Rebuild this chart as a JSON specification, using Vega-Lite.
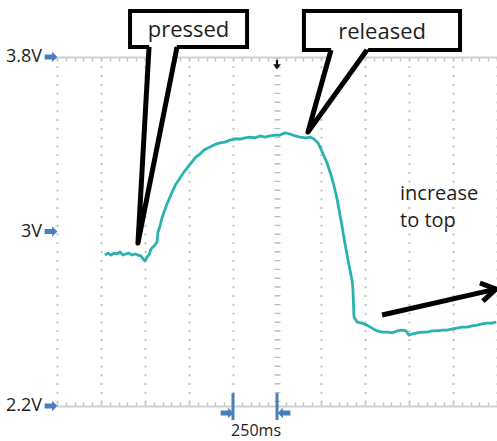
{
  "$schema": "https://vega.github.io/schema/vega-lite/v6.json",
  "width": 440,
  "height": 349,
  "autosize": {"type": "none"},
  "padding": {"left": 57, "top": 57, "right": 0, "bottom": 35},
  "background": "white",
  "config": {"view": {"stroke": null}},
  "resolve": {"axis": {"x": "independent"}},
  "datasets": {
    "trace": [
      {"t":272.7,"V":2.892},{"t":289.8,"V":2.901},{"t":306.8,"V":2.892},{"t":323.9,"V":2.901},{"t":340.9,"V":2.897},{"t":358.0,"V":2.906},{"t":375.0,"V":2.892},{"t":392.1,"V":2.897},{"t":409.1,"V":2.901},{"t":426.2,"V":2.892},{"t":443.2,"V":2.897},{"t":460.2,"V":2.892},{"t":477.3,"V":2.888},{"t":488.7,"V":2.874},{"t":500.0,"V":2.865},{"t":511.4,"V":2.883},{"t":522.7,"V":2.892},{"t":534.1,"V":2.920},{"t":545.5,"V":2.929},{"t":556.8,"V":2.938},{"t":568.2,"V":2.952},{"t":573.9,"V":2.998},{"t":585.2,"V":3.025},{"t":596.6,"V":3.062},{"t":608.0,"V":3.089},{"t":625.0,"V":3.126},{"t":642.1,"V":3.158},{"t":659.1,"V":3.190},{"t":676.2,"V":3.218},{"t":698.9,"V":3.245},{"t":721.6,"V":3.273},{"t":744.3,"V":3.296},{"t":767.1,"V":3.319},{"t":789.8,"V":3.342},{"t":812.5,"V":3.355},{"t":835.3,"V":3.374},{"t":858.0,"V":3.383},{"t":880.7,"V":3.392},{"t":903.4,"V":3.401},{"t":926.2,"V":3.406},{"t":954.6,"V":3.410},{"t":983.0,"V":3.419},{"t":1011.4,"V":3.424},{"t":1039.8,"V":3.424},{"t":1068.2,"V":3.429},{"t":1096.6,"V":3.433},{"t":1125.0,"V":3.429},{"t":1153.4,"V":3.438},{"t":1181.9,"V":3.433},{"t":1210.3,"V":3.438},{"t":1238.7,"V":3.442},{"t":1267.1,"V":3.442},{"t":1295.5,"V":3.452},{"t":1323.9,"V":3.447},{"t":1352.3,"V":3.438},{"t":1380.7,"V":3.433},{"t":1409.1,"V":3.429},{"t":1437.5,"V":3.433},{"t":1460.3,"V":3.424},{"t":1483.0,"V":3.406},{"t":1500.0,"V":3.378},{"t":1517.1,"V":3.346},{"t":1534.1,"V":3.314},{"t":1551.2,"V":3.273},{"t":1568.2,"V":3.227},{"t":1585.3,"V":3.172},{"t":1596.6,"V":3.126},{"t":1608.0,"V":3.076},{"t":1619.4,"V":3.025},{"t":1630.7,"V":2.970},{"t":1642.1,"V":2.920},{"t":1653.5,"V":2.869},{"t":1664.8,"V":2.823},{"t":1676.2,"V":2.778},{"t":1681.9,"V":2.732},{"t":1684.7,"V":2.663},{"t":1687.6,"V":2.608},{"t":1704.6,"V":2.585},{"t":1733.0,"V":2.580},{"t":1761.4,"V":2.571},{"t":1789.8,"V":2.557},{"t":1818.2,"V":2.544},{"t":1846.7,"V":2.539},{"t":1875.1,"V":2.539},{"t":1903.5,"V":2.535},{"t":1931.9,"V":2.544},{"t":1960.3,"V":2.548},{"t":1983.0,"V":2.544},{"t":2000.1,"V":2.525},{"t":2017.1,"V":2.530},{"t":2045.5,"V":2.535},{"t":2073.9,"V":2.539},{"t":2102.3,"V":2.539},{"t":2130.8,"V":2.544},{"t":2159.2,"V":2.544},{"t":2187.6,"V":2.548},{"t":2216.0,"V":2.548},{"t":2244.4,"V":2.553},{"t":2272.8,"V":2.557},{"t":2301.2,"V":2.562},{"t":2329.6,"V":2.562},{"t":2358.0,"V":2.567},{"t":2386.4,"V":2.571},{"t":2414.9,"V":2.576},{"t":2443.3,"V":2.580},{"t":2471.7,"V":2.580},{"t":2494.4,"V":2.585}
    ],
    "boxes": [
      {"label":"pressed","t":415,"t2":1080,"V":4.011,"V2":3.846,"tc":747,"Vc":3.892},
      {"label":"released","t":1403,"t2":2290,"V":4.011,"V2":3.832,"tc":1847,"Vc":3.883}
    ],
    "tailfill": [
      {"id":"p","V":3.860,"t":524,"t2":683},
      {"id":"p","V":2.947,"t":460,"t2":460},
      {"id":"r","V":3.846,"t":1561,"t2":1774},
      {"id":"r","V":3.456,"t":1426,"t2":1426}
    ],
    "tails": [
      {"id":"p","o":1,"t":523,"V":3.846},
      {"id":"p","o":2,"t":460,"V":2.947},
      {"id":"p","o":3,"t":682,"V":3.846},
      {"id":"r","o":1,"t":1557,"V":3.832},
      {"id":"r","o":2,"t":1426,"V":3.456},
      {"id":"r","o":3,"t":1761,"V":3.832}
    ],
    "note": [{"text":"increase\nto top","t":1949,"V":3.144}],
    "arrow": [
      {"id":"shaft","o":1,"t":1847,"V":2.617},
      {"id":"shaft","o":2,"t":2494,"V":2.736},
      {"id":"head","o":1,"t":2403,"V":2.764},
      {"id":"head","o":2,"t":2494,"V":2.736},
      {"id":"head","o":3,"t":2420,"V":2.681}
    ],
    "vlabels": [
      {"label":"3.8V","t":-85,"V":3.8},
      {"label":"3V","t":-85,"V":3.0},
      {"label":"2.2V","t":-85,"V":2.2}
    ],
    "bluearrows": [
      {"t":-34,"V":3.8,"dir":"right"},
      {"t":-34,"V":3.0,"dir":"right"},
      {"t":-34,"V":2.2,"dir":"right"},
      {"t":966,"V":2.168,"dir":"right"},
      {"t":1290,"V":2.168,"dir":"left"}
    ],
    "cursors": [
      {"t":1000,"V":2.259,"V2":2.136},
      {"t":1250,"V":2.259,"V2":2.136}
    ],
    "scaleText": [{"text":"250ms","t":1131,"V":2.086}],
    "trigger": [{"t":1250,"V":3.762}]
  },
  "layer": [
    {
      "data": {"name": "trace"},
      "mark": {"type": "line", "color": "#2ab3ae", "strokeWidth": 2.8, "strokeJoin": "round"},
      "encoding": {
        "x": {"field": "t", "type": "quantitative", "scale": {"domain": [0, 2500], "nice": false, "zero": false},
          "axis": {"orient": "bottom", "title": null, "labels": false,
            "values": [0,50,100,150,200,250,300,350,400,450,500,550,600,650,700,750,800,850,900,950,1000,1050,1100,1150,1200,1250,1300,1350,1400,1450,1500,1550,1600,1650,1700,1750,1800,1850,1900,1950,2000,2050,2100,2150,2200,2250,2300,2350,2400,2450,2500],
            "domainColor": "#d0d0d0", "domainWidth": 2,
            "tickColor": "#c4c4c4", "tickSize": -4, "tickWidth": 1.5,
            "grid": true, "gridColor": "#c0c0c0",
            "gridOpacity": {"condition": {"test": "datum.value % 250 === 0", "value": 1}, "value": 0},
            "gridWidth": {"condition": {"test": "datum.value === 1250", "value": 6}, "value": 2},
            "gridDash": {"condition": {"test": "datum.value === 1250", "value": [1.4, 7.4]}, "value": [2, 6.8]}
          }},
        "y": {"field": "V", "type": "quantitative", "scale": {"domain": [2.2, 3.8], "nice": false, "zero": false},
          "axis": {"orient": "left", "title": null, "labels": false,
            "values": [2.2,2.24,2.28,2.32,2.36,2.4,2.44,2.48,2.52,2.56,2.6,2.64,2.68,2.72,2.76,2.8,2.84,2.88,2.92,2.96,3,3.04,3.08,3.12,3.16,3.2,3.24,3.28,3.32,3.36,3.4,3.44,3.48,3.52,3.56,3.6,3.64,3.68,3.72,3.76,3.8],
            "domainColor": "#d0d0d0", "domainWidth": 2,
            "tickColor": "#c4c4c4", "tickSize": -4, "tickWidth": 1.5,
            "grid": true, "gridColor": "#c0c0c0",
            "gridOpacity": {"condition": {"test": "abs(datum.value*5 - round(datum.value*5)) < 0.001", "value": 1}, "value": 0},
            "gridWidth": {"condition": {"test": "abs(datum.value-3) < 0.001", "value": 6}, "value": 2},
            "gridDash": {"condition": {"test": "abs(datum.value-3) < 0.001", "value": [1.4, 7.4]}, "value": [2, 6.8]}
          }}
      }
    },
    {
      "data": {"name": "boxes"},
      "mark": {"type": "rect", "fill": "white", "stroke": "black", "strokeWidth": 4},
      "encoding": {
        "x": {"field": "t", "type": "quantitative", "scale": {"domain": [0, 2500], "nice": false, "zero": false},
          "axis": {"orient": "top", "title": null, "labels": false, "grid": false,
            "values": [0,50,100,150,200,250,300,350,400,450,500,550,600,650,700,750,800,850,900,950,1000,1050,1100,1150,1200,1250,1300,1350,1400,1450,1500,1550,1600,1650,1700,1750,1800,1850,1900,1950,2000,2050,2100,2150,2200,2250,2300,2350,2400,2450,2500],
            "domainColor": "#d0d0d0", "domainWidth": 2,
            "tickColor": "#c4c4c4", "tickSize": -4, "tickWidth": 1.5}},
        "x2": {"field": "t2"},
        "y": {"field": "V", "type": "quantitative", "scale": {"domain": [2.2, 3.8], "nice": false, "zero": false}, "axis": null},
        "y2": {"field": "V2"}
      }
    },
    {
      "data": {"name": "tailfill"},
      "mark": {"type": "area", "orient": "horizontal", "color": "white", "opacity": 1},
      "encoding": {
        "y": {"field": "V", "type": "quantitative", "scale": {"domain": [2.2, 3.8], "nice": false, "zero": false}, "axis": null},
        "x": {"field": "t", "type": "quantitative", "scale": {"domain": [0, 2500], "nice": false, "zero": false}, "axis": null},
        "x2": {"field": "t2"},
        "detail": {"field": "id"}
      }
    },
    {
      "data": {"name": "tails"},
      "mark": {"type": "line", "color": "black", "strokeWidth": 5, "strokeJoin": "round"},
      "encoding": {
        "x": {"field": "t", "type": "quantitative", "scale": {"domain": [0, 2500], "nice": false, "zero": false}, "axis": null},
        "y": {"field": "V", "type": "quantitative", "scale": {"domain": [2.2, 3.8], "nice": false, "zero": false}, "axis": null},
        "detail": {"field": "id"},
        "order": {"field": "o"}
      }
    },
    {
      "data": {"name": "boxes"},
      "mark": {"type": "text", "font": "Open Sans", "fontSize": 22, "color": "#1e1e1e", "align": "center", "baseline": "alphabetic"},
      "encoding": {
        "x": {"field": "tc", "type": "quantitative", "scale": {"domain": [0, 2500], "nice": false, "zero": false}, "axis": null},
        "y": {"field": "Vc", "type": "quantitative", "scale": {"domain": [2.2, 3.8], "nice": false, "zero": false}, "axis": null},
        "text": {"field": "label"}
      }
    },
    {
      "data": {"name": "note"},
      "mark": {"type": "text", "font": "Open Sans", "fontSize": 20, "color": "#1e1e1e", "align": "left", "baseline": "alphabetic", "lineBreak": "\n", "lineHeight": 27},
      "encoding": {
        "x": {"field": "t", "type": "quantitative", "scale": {"domain": [0, 2500], "nice": false, "zero": false}, "axis": null},
        "y": {"field": "V", "type": "quantitative", "scale": {"domain": [2.2, 3.8], "nice": false, "zero": false}, "axis": null},
        "text": {"field": "text"}
      }
    },
    {
      "data": {"name": "arrow"},
      "mark": {"type": "line", "color": "black", "strokeWidth": 5, "strokeJoin": "miter", "strokeCap": "butt"},
      "encoding": {
        "x": {"field": "t", "type": "quantitative", "scale": {"domain": [0, 2500], "nice": false, "zero": false}, "axis": null},
        "y": {"field": "V", "type": "quantitative", "scale": {"domain": [2.2, 3.8], "nice": false, "zero": false}, "axis": null},
        "detail": {"field": "id"},
        "order": {"field": "o"}
      }
    },
    {
      "data": {"name": "vlabels"},
      "mark": {"type": "text", "font": "Open Sans", "fontSize": 18, "color": "#1e1e1e", "align": "right", "baseline": "middle"},
      "encoding": {
        "x": {"field": "t", "type": "quantitative", "scale": {"domain": [0, 2500], "nice": false, "zero": false}, "axis": null},
        "y": {"field": "V", "type": "quantitative", "scale": {"domain": [2.2, 3.8], "nice": false, "zero": false}, "axis": null},
        "text": {"field": "label"}
      }
    },
    {
      "data": {"name": "cursors"},
      "mark": {"type": "rule", "color": "#4a7ebb", "strokeWidth": 3},
      "encoding": {
        "x": {"field": "t", "type": "quantitative", "scale": {"domain": [0, 2500], "nice": false, "zero": false}, "axis": null},
        "y": {"field": "V", "type": "quantitative", "scale": {"domain": [2.2, 3.8], "nice": false, "zero": false}, "axis": null},
        "y2": {"field": "V2"}
      }
    },
    {
      "data": {"name": "bluearrows"},
      "mark": {"type": "point", "filled": true, "opacity": 1, "color": "#4a7ebb", "size": 225},
      "encoding": {
        "x": {"field": "t", "type": "quantitative", "scale": {"domain": [0, 2500], "nice": false, "zero": false}, "axis": null},
        "y": {"field": "V", "type": "quantitative", "scale": {"domain": [2.2, 3.8], "nice": false, "zero": false}, "axis": null},
        "shape": {"field": "dir", "type": "nominal", "legend": null,
          "scale": {"domain": ["right", "left"], "range": ["M-0.85,-0.34L0.15,-0.34L0.15,-0.7L0.85,0L0.15,0.7L0.15,0.34L-0.85,0.34Z", "M0.85,-0.34L-0.15,-0.34L-0.15,-0.7L-0.85,0L-0.15,0.7L-0.15,0.34L0.85,0.34Z"]}}
      }
    },
    {
      "data": {"name": "scaleText"},
      "mark": {"type": "text", "font": "Open Sans", "fontSize": 16, "color": "#1e1e1e", "align": "center", "baseline": "middle"},
      "encoding": {
        "x": {"field": "t", "type": "quantitative", "scale": {"domain": [0, 2500], "nice": false, "zero": false}, "axis": null},
        "y": {"field": "V", "type": "quantitative", "scale": {"domain": [2.2, 3.8], "nice": false, "zero": false}, "axis": null},
        "text": {"field": "text"}
      }
    },
    {
      "data": {"name": "trigger"},
      "mark": {"type": "point", "filled": true, "opacity": 1, "color": "#111111", "size": 196,
        "shape": "M-0.15,-0.8L0.15,-0.8L0.15,-0.15L0.55,-0.15L0,0.6L-0.55,-0.15L-0.15,-0.15Z"},
      "encoding": {
        "x": {"field": "t", "type": "quantitative", "scale": {"domain": [0, 2500], "nice": false, "zero": false}, "axis": null},
        "y": {"field": "V", "type": "quantitative", "scale": {"domain": [2.2, 3.8], "nice": false, "zero": false}, "axis": null}
      }
    }
  ]
}
